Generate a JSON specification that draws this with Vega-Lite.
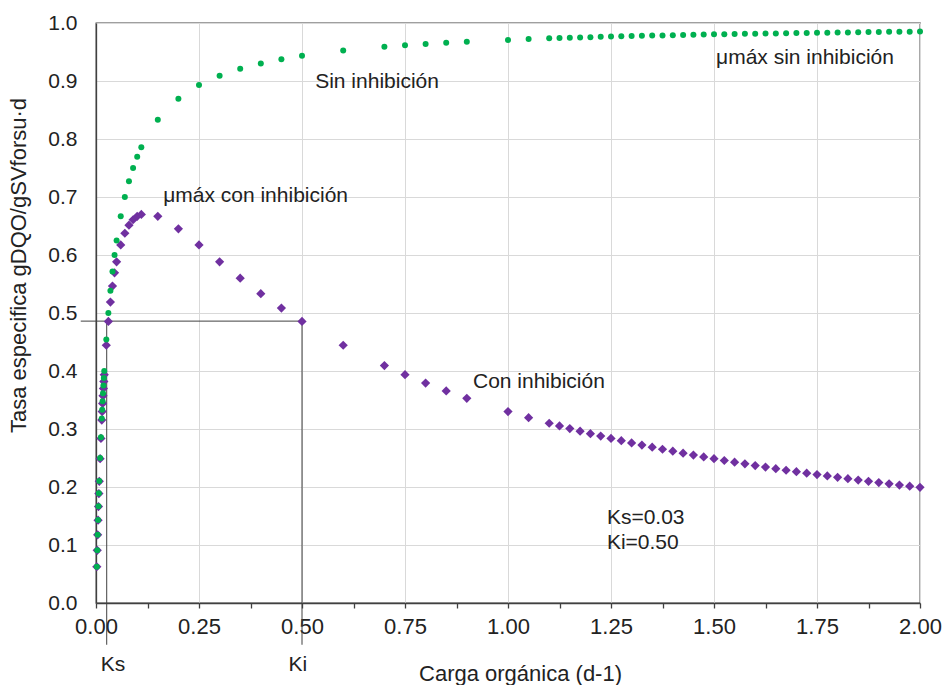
{
  "$schema": "https://vega.github.io/schema/vega-lite/v6.json",
  "width": 824,
  "height": 580,
  "autosize": {"type": "none"},
  "padding": {"left": 96, "top": 23, "right": 24, "bottom": 82},
  "background": "white",
  "config": {
    "view": {"stroke": "#404040", "strokeWidth": 1.3},
    "font": "Liberation Sans",
    "axis": {"labelFont": "Liberation Sans", "titleFont": "Liberation Sans"},
    "text": {"font": "Liberation Sans"}
  },
  "datasets": {
    "sin": [
      {"x": 0.002, "y": 0.0625}, {"x": 0.003, "y": 0.0909}, {"x": 0.004, "y": 0.1176}, {"x": 0.005, "y": 0.1429},
      {"x": 0.006, "y": 0.1667}, {"x": 0.007, "y": 0.1892}, {"x": 0.008, "y": 0.2105}, {"x": 0.01, "y": 0.25},
      {"x": 0.012, "y": 0.2857}, {"x": 0.014, "y": 0.3182}, {"x": 0.015, "y": 0.3333}, {"x": 0.016, "y": 0.3478},
      {"x": 0.017, "y": 0.3617}, {"x": 0.018, "y": 0.375}, {"x": 0.019, "y": 0.3878}, {"x": 0.02, "y": 0.4},
      {"x": 0.025, "y": 0.4545}, {"x": 0.03, "y": 0.5}, {"x": 0.035, "y": 0.5385}, {"x": 0.04, "y": 0.5714},
      {"x": 0.045, "y": 0.6}, {"x": 0.05, "y": 0.625}, {"x": 0.06, "y": 0.6667}, {"x": 0.07, "y": 0.7},
      {"x": 0.08, "y": 0.7273}, {"x": 0.09, "y": 0.75}, {"x": 0.1, "y": 0.7692}, {"x": 0.11, "y": 0.7857},
      {"x": 0.15, "y": 0.8333}, {"x": 0.2, "y": 0.8696}, {"x": 0.25, "y": 0.8929}, {"x": 0.3, "y": 0.9091},
      {"x": 0.35, "y": 0.9211}, {"x": 0.4, "y": 0.9302}, {"x": 0.45, "y": 0.9375}, {"x": 0.5, "y": 0.9434},
      {"x": 0.6, "y": 0.9524}, {"x": 0.7, "y": 0.9589}, {"x": 0.75, "y": 0.9615}, {"x": 0.8, "y": 0.9639},
      {"x": 0.85, "y": 0.9659}, {"x": 0.9, "y": 0.9677}, {"x": 1.0, "y": 0.9709}, {"x": 1.05, "y": 0.9722},
      {"x": 1.1, "y": 0.9735}, {"x": 1.125, "y": 0.974}, {"x": 1.15, "y": 0.9746}, {"x": 1.175, "y": 0.9751},
      {"x": 1.2, "y": 0.9756}, {"x": 1.225, "y": 0.9761}, {"x": 1.25, "y": 0.9766}, {"x": 1.275, "y": 0.977},
      {"x": 1.3, "y": 0.9774}, {"x": 1.325, "y": 0.9779}, {"x": 1.35, "y": 0.9783}, {"x": 1.375, "y": 0.9786},
      {"x": 1.4, "y": 0.979}, {"x": 1.425, "y": 0.9794}, {"x": 1.45, "y": 0.9797}, {"x": 1.475, "y": 0.9801},
      {"x": 1.5, "y": 0.9804}, {"x": 1.525, "y": 0.9807}, {"x": 1.55, "y": 0.981}, {"x": 1.575, "y": 0.9813},
      {"x": 1.6, "y": 0.9816}, {"x": 1.625, "y": 0.9819}, {"x": 1.65, "y": 0.9821}, {"x": 1.675, "y": 0.9824},
      {"x": 1.7, "y": 0.9827}, {"x": 1.725, "y": 0.9829}, {"x": 1.75, "y": 0.9831}, {"x": 1.775, "y": 0.9834},
      {"x": 1.8, "y": 0.9836}, {"x": 1.825, "y": 0.9838}, {"x": 1.85, "y": 0.984}, {"x": 1.875, "y": 0.9843},
      {"x": 1.9, "y": 0.9845}, {"x": 1.925, "y": 0.9847}, {"x": 1.95, "y": 0.9848}, {"x": 1.975, "y": 0.985},
      {"x": 2.0, "y": 0.9852}
    ],
    "con": [
      {"x": 0.002, "y": 0.0625}, {"x": 0.003, "y": 0.0909}, {"x": 0.004, "y": 0.1175}, {"x": 0.005, "y": 0.1427},
      {"x": 0.006, "y": 0.1663}, {"x": 0.007, "y": 0.1887}, {"x": 0.008, "y": 0.2098}, {"x": 0.01, "y": 0.2488},
      {"x": 0.012, "y": 0.2838}, {"x": 0.014, "y": 0.3154}, {"x": 0.015, "y": 0.33}, {"x": 0.016, "y": 0.344},
      {"x": 0.017, "y": 0.3573}, {"x": 0.018, "y": 0.37}, {"x": 0.019, "y": 0.3821}, {"x": 0.02, "y": 0.3937},
      {"x": 0.025, "y": 0.4444}, {"x": 0.03, "y": 0.4854}, {"x": 0.035, "y": 0.5189}, {"x": 0.04, "y": 0.5464},
      {"x": 0.045, "y": 0.5693}, {"x": 0.05, "y": 0.5882}, {"x": 0.06, "y": 0.6173}, {"x": 0.07, "y": 0.6375},
      {"x": 0.08, "y": 0.6515}, {"x": 0.09, "y": 0.6608}, {"x": 0.1, "y": 0.6667}, {"x": 0.11, "y": 0.6699},
      {"x": 0.15, "y": 0.6667}, {"x": 0.2, "y": 0.6452}, {"x": 0.25, "y": 0.6173}, {"x": 0.3, "y": 0.5882},
      {"x": 0.35, "y": 0.56}, {"x": 0.4, "y": 0.5333}, {"x": 0.45, "y": 0.5085}, {"x": 0.5, "y": 0.4854},
      {"x": 0.6, "y": 0.4444}, {"x": 0.7, "y": 0.4094}, {"x": 0.75, "y": 0.3937}, {"x": 0.8, "y": 0.3791},
      {"x": 0.85, "y": 0.3656}, {"x": 0.9, "y": 0.3529}, {"x": 1.0, "y": 0.33}, {"x": 1.05, "y": 0.3196},
      {"x": 1.1, "y": 0.3099}, {"x": 1.125, "y": 0.3052}, {"x": 1.15, "y": 0.3007}, {"x": 1.175, "y": 0.2963},
      {"x": 1.2, "y": 0.292}, {"x": 1.225, "y": 0.2878}, {"x": 1.25, "y": 0.2838}, {"x": 1.275, "y": 0.2798},
      {"x": 1.3, "y": 0.276}, {"x": 1.325, "y": 0.2723}, {"x": 1.35, "y": 0.2687}, {"x": 1.375, "y": 0.2651},
      {"x": 1.4, "y": 0.2617}, {"x": 1.425, "y": 0.2583}, {"x": 1.45, "y": 0.2551}, {"x": 1.475, "y": 0.2519},
      {"x": 1.5, "y": 0.2488}, {"x": 1.525, "y": 0.2457}, {"x": 1.55, "y": 0.2428}, {"x": 1.575, "y": 0.2399},
      {"x": 1.6, "y": 0.237}, {"x": 1.625, "y": 0.2343}, {"x": 1.65, "y": 0.2316}, {"x": 1.675, "y": 0.2289},
      {"x": 1.7, "y": 0.2264}, {"x": 1.725, "y": 0.2238}, {"x": 1.75, "y": 0.2214}, {"x": 1.775, "y": 0.219},
      {"x": 1.8, "y": 0.2166}, {"x": 1.825, "y": 0.2143}, {"x": 1.85, "y": 0.212}, {"x": 1.875, "y": 0.2098},
      {"x": 1.9, "y": 0.2077}, {"x": 1.925, "y": 0.2055}, {"x": 1.95, "y": 0.2034}, {"x": 1.975, "y": 0.2014},
      {"x": 2.0, "y": 0.1994}
    ],
    "refs": [
      {"x": -0.037, "x2": 0.5, "y": 0.486, "y2": 0.486},
      {"x": 0.5, "x2": 0.5, "y": -0.072, "y2": 0.486},
      {"x": 0.026, "x2": 0.026, "y": -0.072, "y2": 0.486}
    ],
    "notes": [
      {"x": 0.532, "y": 0.898, "label": "Sin inhibición"},
      {"x": 1.505, "y": 0.94, "label": "μmáx sin inhibición"},
      {"x": 0.163, "y": 0.702, "label": "μmáx con inhibición"},
      {"x": 0.915, "y": 0.381, "label": "Con inhibición"},
      {"x": 1.24, "y": 0.147, "label": "Ks=0.03"},
      {"x": 1.24, "y": 0.103, "label": "Ki=0.50"}
    ],
    "params": [
      {"x": 0.041, "y": -0.107, "label": "Ks"},
      {"x": 0.49, "y": -0.107, "label": "Ki"}
    ]
  },
  "encoding": {
    "x": {
      "field": "x",
      "type": "quantitative",
      "scale": {"domain": [0, 2], "nice": false, "zero": false},
      "axis": {
        "title": "Carga orgánica (d-1)",
        "values": [0, 0.125, 0.25, 0.375, 0.5, 0.625, 0.75, 0.875, 1, 1.125, 1.25, 1.375, 1.5, 1.625, 1.75, 1.875, 2],
        "labelExpr": "round(datum.value*1000) % 250 == 0 ? format(datum.value, '.2f') : ''",
        "grid": true,
        "gridColor": "#d9d9d9",
        "gridWidth": 1,
        "gridOpacity": {"condition": {"test": "round(datum.value*1000) % 250 != 0", "value": 0}, "value": 1},
        "domainColor": "#404040",
        "domainWidth": 1.3,
        "tickColor": "#404040",
        "tickWidth": 1.3,
        "tickSize": 5,
        "labelFontSize": 22,
        "labelColor": "#222222",
        "labelPadding": 8,
        "labelFlush": false,
        "labelOverlap": false,
        "labelBound": false,
        "titleFontSize": 22,
        "titleFontWeight": "normal",
        "titleColor": "#222222",
        "titleX": 424,
        "titleY": 77,
        "titleAlign": "center",
        "titleBaseline": "alphabetic"
      }
    },
    "y": {
      "field": "y",
      "type": "quantitative",
      "scale": {"domain": [0, 1], "nice": false, "zero": false},
      "axis": {
        "title": "Tasa especifica gDQO/gSVforsu·d",
        "values": [0, 0.1, 0.2, 0.3, 0.4, 0.5, 0.6, 0.7, 0.8, 0.9, 1],
        "format": ".1f",
        "grid": true,
        "gridColor": "#d9d9d9",
        "gridWidth": 1,
        "domainColor": "#404040",
        "domainWidth": 1.3,
        "ticks": false,
        "labelPadding": 19,
        "labelFontSize": 21,
        "labelColor": "#222222",
        "labelFlush": false,
        "labelOverlap": false,
        "titleFontSize": 22,
        "titleFontWeight": "normal",
        "titleColor": "#222222",
        "titleAngle": -90,
        "titleX": -78,
        "titleY": 242,
        "titleAlign": "center",
        "titleBaseline": "middle"
      }
    }
  },
  "layer": [
    {
      "data": {"name": "refs"},
      "mark": {"type": "rule", "color": "#404040", "strokeWidth": 1},
      "encoding": {"x2": {"field": "x2"}, "y2": {"field": "y2"}}
    },
    {
      "data": {"name": "con"},
      "mark": {"type": "point", "shape": "diamond", "filled": true, "size": 85, "color": "#7030A0", "opacity": 1}
    },
    {
      "data": {"name": "sin"},
      "mark": {"type": "point", "shape": "circle", "filled": true, "size": 36, "color": "#00B050", "opacity": 1}
    },
    {
      "data": {"name": "notes"},
      "mark": {"type": "text", "align": "left", "baseline": "middle", "fontSize": 21, "color": "#222222"},
      "encoding": {"text": {"field": "label"}}
    },
    {
      "data": {"name": "params"},
      "mark": {"type": "text", "align": "center", "baseline": "middle", "fontSize": 21, "color": "#222222"},
      "encoding": {"text": {"field": "label"}}
    }
  ]
}
